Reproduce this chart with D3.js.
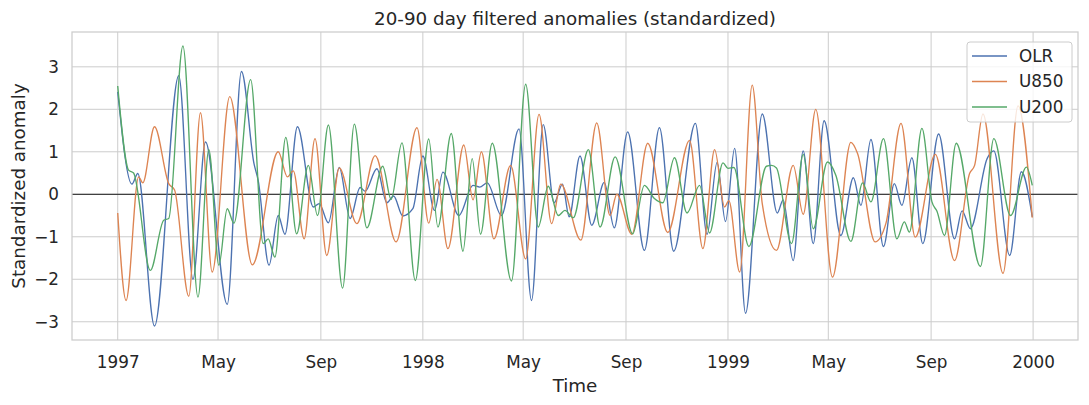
<!DOCTYPE html>
<html>
<head>
<meta charset="utf-8">
<script src="https://cdn.jsdelivr.net/npm/d3@7"></script>
<style>
  body { margin: 0; background: #fff; }
  text { font-family: "DejaVu Sans", sans-serif; fill: #262626; }
</style>
</head>
<body>
<svg id="chart" width="1089" height="405"></svg>
<script>
// day offsets from 1997-01-01 and standardized values, read at turning points
const olrDays = [0, 17, 24, 44, 73, 90, 105, 131, 148, 163, 168, 181, 192, 200, 215, 234, 241, 252, 265, 278, 290, 296, 310, 322, 330, 341, 353, 365, 379, 389, 408, 425, 433, 442, 459, 480, 495, 509, 522, 532, 540, 553, 567, 582, 594, 610, 630, 648, 665, 691, 705, 717, 727, 738, 751, 771, 789, 796, 808, 820, 832, 845, 865, 880, 889, 901, 916, 929, 938, 950, 963, 982, 1001, 1010, 1020, 1040, 1048, 1067, 1081, 1094];
const olrVals = [2.41, 0.24, 0.49, -3.1, 2.79, -2.0, 1.23, -2.59, 2.89, 0.72, 0.33, -1.67, -0.5, -0.94, 1.59, -0.3, -0.22, -0.67, 0.63, -0.57, 0.16, 0.07, 0.6, -0.2, -0.04, -0.51, -0.34, 0.9, -0.38, 0.52, -0.5, 0.21, 0.17, 0.27, -0.5, 1.54, -2.5, 1.64, -0.2, 0.24, -0.53, 0.9, -0.73, 0.28, -0.79, 1.47, -1.32, 1.57, -1.34, 1.67, -0.94, 0.75, -0.64, 1.08, -2.8, 1.89, -0.44, -0.13, -1.56, 1.02, -1.16, 1.73, -0.97, 0.39, -0.26, 1.29, -1.23, 0.25, -0.26, 0.86, -1.16, 1.42, -1.05, -0.39, -0.81, 0.84, 1.02, -1.44, 0.53, -0.53];

const u850Days = [0, 10, 25, 30, 44, 61, 68, 85, 99, 113, 134, 161, 192, 203, 210, 223, 236, 250, 265, 286, 308, 333, 358, 372, 382, 395, 414, 425, 435, 450, 470, 488, 504, 519, 530, 554, 573, 589, 597, 615, 634, 658, 684, 700, 714, 726, 731, 744, 759, 771, 788, 808, 820, 835, 855, 877, 885, 906, 919, 937, 954, 978, 1001, 1019, 1025, 1035, 1059, 1077, 1094];
const u850Vals = [-0.44, -2.5, 0.41, 0.27, 1.59, 0.25, 0.1, -2.4, 1.92, -1.83, 2.3, -1.66, 1.0, 0.41, 0.55, -1.05, 1.31, -1.44, 0.62, -0.69, 0.91, -1.12, 1.57, -0.68, 0.35, -1.28, 1.16, -0.13, 1.0, -1.05, 0.68, -1.52, 1.88, -0.69, 0.24, -1.08, 1.68, -0.5, 0.0, -0.94, 1.2, -0.9, 1.27, -1.28, 1.05, -0.3, -0.15, -1.83, 2.57, -0.22, -1.32, 0.68, -0.47, 2.0, -1.95, 1.22, 0.96, -1.12, -0.68, 1.67, -1.01, 0.94, -1.56, 0.49, 0.68, 1.89, -1.86, 2.08, -0.55];

const u200Days = [0, 13, 19, 39, 55, 61, 78, 96, 109, 121, 131, 139, 159, 174, 180, 188, 201, 214, 228, 239, 252, 269, 283, 298, 317, 327, 340, 356, 372, 383, 399, 413, 424, 434, 448, 471, 488, 503, 515, 527, 535, 545, 563, 577, 595, 616, 630, 642, 652, 666, 681, 696, 708, 724, 730, 737, 755, 776, 782, 788, 806, 820, 832, 849, 859, 877, 891, 901, 916, 932, 941, 947, 962, 974, 980, 989, 1003, 1032, 1048, 1068, 1087, 1094];
const u200Vals = [2.55, 0.57, 0.5, -1.79, -0.61, -0.57, 3.49, -2.42, 1.05, -1.67, -0.34, -0.68, 2.7, -1.16, -1.05, -1.48, 1.34, -0.93, 0.68, -0.5, 1.63, -2.21, 1.65, -0.79, 0.66, -0.12, 1.21, -2.03, 1.3, -0.77, 1.43, -1.34, 0.84, -0.94, 1.2, -2.04, 2.59, -0.77, 0.19, -0.5, -0.38, -0.55, 1.05, -0.77, 0.88, -0.93, 0.21, -0.1, -0.2, 0.86, -0.44, 0.21, -0.91, 0.74, 0.61, 0.63, -1.23, 0.66, 0.68, 0.62, -1.16, 0.94, -0.81, 0.76, 0.45, -1.11, 0.27, -0.18, 1.31, -1.05, -0.65, -0.89, 1.55, -0.18, -0.4, -0.97, 1.2, -1.7, 1.31, -0.5, 0.64, 0.21];

const seriesNames = ["OLR", "U850", "U200"];
const seriesColors = ["#4c72b0", "#dd8452", "#55a868"];

const yTicks = [-3, -2, -1, 0, 1, 2, 3];
const xTickDates = ["1997-01-01", "1997-05-01", "1997-09-01", "1998-01-01", "1998-05-01", "1998-09-01", "1999-01-01", "1999-05-01", "1999-09-01", "2000-01-01"];
const xTickLabels = ["1997", "May", "Sep", "1998", "May", "Sep", "1999", "May", "Sep", "2000"];

const startDate = new Date(Date.UTC(1997, 0, 1));
const toSeries = (days, vals) => days.map((d, i) => ({date: d3.utcDay.offset(startDate, d), value: vals[i]}));
const series = [
  toSeries(olrDays, olrVals),
  toSeries(u850Days, u850Vals),
  toSeries(u200Days, u200Vals)
];

const width = 1089, height = 405;
const margin = {top: 32, right: 11, bottom: 65, left: 72};
const tickFont = "16.8px", labelFont = "18.3px";

const svg = d3.select("#chart");

const allPts = series.flat();
const xExt = d3.extent(allPts, d => d.date);
const xPad = (xExt[1] - xExt[0]) * 0.05;
const yExt = d3.extent(allPts, d => d.value);
const yPad = (yExt[1] - yExt[0]) * 0.05;

const x = d3.scaleUtc()
  .domain([new Date(+xExt[0] - xPad), new Date(+xExt[1] + xPad)])
  .range([margin.left, width - margin.right]);
const y = d3.scaleLinear()
  .domain([yExt[0] - yPad, yExt[1] + yPad])
  .range([height - margin.bottom, margin.top]);

const tickDates = xTickDates.map(s => new Date(s + "T00:00:00Z"));

// grid
const grid = svg.append("g").attr("stroke", "#cccccc").attr("stroke-width", 1);
grid.selectAll(".gx").data(tickDates).enter().append("line")
  .attr("x1", d => x(d)).attr("x2", d => x(d))
  .attr("y1", margin.top).attr("y2", height - margin.bottom);
grid.selectAll(".gy").data(yTicks).enter().append("line")
  .attr("x1", margin.left).attr("x2", width - margin.right)
  .attr("y1", d => y(d)).attr("y2", d => y(d));

// axes (labels only, seaborn whitegrid has no tick marks)
const xAxis = svg.append("g")
  .attr("transform", `translate(0,${height - margin.bottom})`)
  .call(d3.axisBottom(x).tickValues(tickDates).tickSize(0).tickPadding(16)
    .tickFormat((d, i) => xTickLabels[i]));
const yAxis = svg.append("g")
  .attr("transform", `translate(${margin.left},0)`)
  .call(d3.axisLeft(y).tickValues(yTicks).tickSize(0).tickPadding(13)
    .tickFormat(d => d < 0 ? "\u2212" + Math.abs(d) : String(d)));
[xAxis, yAxis].forEach(a => {
  a.select(".domain").remove();
  a.selectAll("text").attr("font-size", tickFont).attr("font-family", "DejaVu Sans, sans-serif").attr("fill", "#262626");
});

// zero line
svg.append("line")
  .attr("x1", margin.left).attr("x2", width - margin.right)
  .attr("y1", y(0)).attr("y2", y(0))
  .attr("stroke", "#000").attr("stroke-width", 0.9);

// series
const line = d3.line().x(d => x(d.date)).y(d => y(d.value)).curve(d3.curveMonotoneX);
svg.append("g").selectAll("path").data(series).enter().append("path")
  .attr("d", line)
  .attr("fill", "none")
  .attr("stroke", (d, i) => seriesColors[i])
  .attr("stroke-width", 1.35);

// frame
svg.append("rect")
  .attr("x", margin.left).attr("y", margin.top)
  .attr("width", width - margin.left - margin.right)
  .attr("height", height - margin.top - margin.bottom)
  .attr("fill", "none").attr("stroke", "#cccccc").attr("stroke-width", 1.25);

// title and axis labels
svg.append("text").attr("x", (margin.left + width - margin.right) / 2).attr("y", 25)
  .attr("text-anchor", "middle").attr("font-size", labelFont)
  .text("20-90 day filtered anomalies (standardized)");
svg.append("text").attr("x", (margin.left + width - margin.right) / 2).attr("y", 392)
  .attr("text-anchor", "middle").attr("font-size", labelFont).text("Time");
svg.append("text").attr("transform", `translate(25,${(margin.top + height - margin.bottom) / 2}) rotate(-90)`)
  .attr("text-anchor", "middle").attr("font-size", labelFont).text("Standardized anomaly");

// legend
const lg = svg.append("g").attr("transform", "translate(967,42)");
lg.append("rect").attr("width", 105).attr("height", 80).attr("rx", 3)
  .attr("fill", "#fff").attr("fill-opacity", 0.8)
  .attr("stroke", "#cccccc").attr("stroke-width", 1);
seriesNames.forEach((name, i) => {
  const gy = 14 + i * 25.5;
  lg.append("line").attr("x1", 5).attr("x2", 40).attr("y1", gy).attr("y2", gy)
    .attr("stroke", seriesColors[i]).attr("stroke-width", 1.35);
  lg.append("text").attr("x", 52).attr("y", gy).attr("dy", "0.35em")
    .attr("font-size", tickFont).text(name);
});
</script>
</body>
</html>
